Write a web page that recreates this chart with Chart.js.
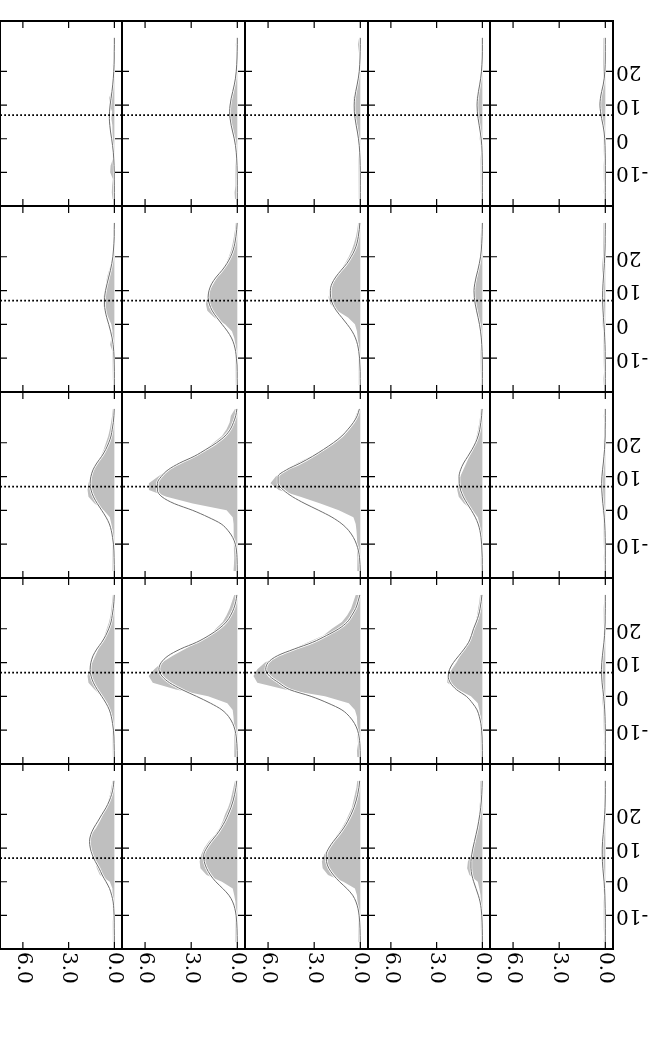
<!DOCTYPE html>
<html>
<head>
<meta charset="utf-8">
<script src="https://cdn.jsdelivr.net/npm/chart.js"></script>
<style>
  html, body { margin: 0; padding: 0; background: #fff; }
  /* the figure is laid out upright and then turned half a turn, as in the picture */
  #fig { position: relative; width: 667px; height: 1060px; overflow: hidden; transform: rotate(180deg); }
  #fig canvas { position: absolute; }
</style>
</head>
<body>
<div id="fig"></div>
<script>
// sample positions along the profile axis
const domain = [-18,-16,-14,-12,-10,-8,-6,-4,-2,0,2,4,6,8,10,12,14,16,18,20,22,24,26,28,30];
const valueTicks = [0, 3, 6];
const domainTicks = [-10, 0, 10, 20];
const refLine = 7;

// histograms, one list per panel, rows/columns as they appear on the page
const histRow1 = [
  [0.12,0.17,0.15,0.1,0.28,0.25,0.1,0.1,0.15,0.15,0.12,0.15,0.2,0.15,0.3,0.35,0.2,0.12,0.08,0.08,0.1,0.06,0.05,0.07,0.05],
  [0.15,0.18,0.12,0.15,0.1,0.12,0.08,0.1,0.12,0.15,0.25,0.35,0.5,0.52,0.45,0.35,0.25,0.15,0.1,0.08,0.06,0.05,0.08,0.1,0.05],
  [0.1,0.12,0.1,0.15,0.1,0.12,0.1,0.08,0.1,0.12,0.15,0.2,0.3,0.4,0.48,0.45,0.35,0.2,0.12,0.1,0.08,0.05,0.1,0.15,0.08],
  [0.08,0.1,0.12,0.1,0.15,0.12,0.1,0.08,0.1,0.18,0.15,0.2,0.25,0.35,0.4,0.38,0.3,0.2,0.12,0.1,0.06,0.05,0.05,0.06,0.04],
  [0.05,0.1,0.08,0.1,0.12,0.1,0.08,0.1,0.12,0.1,0.08,0.12,0.2,0.3,0.35,0.3,0.25,0.15,0.1,0.12,0.15,0.1,0.12,0.15,0.1]
];
const histRow2 = [
  [0.08,0.1,0.12,0.1,0.12,0.15,0.28,0.2,0.12,0.2,0.4,0.62,0.75,0.72,0.62,0.55,0.48,0.35,0.2,0.12,0.1,0.08,0.06,0.05,0.05],
  [0.1,0.12,0.1,0.1,0.12,0.14,0.15,0.2,0.35,0.8,1.5,1.95,2.05,1.95,1.8,1.55,1.3,1.0,0.75,0.55,0.4,0.3,0.22,0.15,0.1],
  [0.1,0.1,0.12,0.1,0.1,0.12,0.14,0.17,0.22,0.35,0.8,1.5,1.95,2.07,1.95,1.8,1.55,1.3,1.0,0.75,0.55,0.4,0.28,0.2,0.14],
  [0.1,0.08,0.1,0.15,0.12,0.1,0.08,0.1,0.12,0.15,0.22,0.35,0.5,0.6,0.58,0.45,0.35,0.25,0.2,0.15,0.12,0.1,0.1,0.08,0.05],
  [0.1,0.12,0.08,0.1,0.15,0.12,0.1,0.12,0.15,0.18,0.2,0.22,0.24,0.22,0.2,0.18,0.15,0.22,0.2,0.15,0.12,0.1,0.12,0.15,0.1]
];
const histRow3 = [
  [0.12,0.1,0.12,0.1,0.12,0.13,0.15,0.2,0.3,0.7,1.3,1.7,1.76,1.7,1.55,1.35,1.1,0.9,0.7,0.55,0.4,0.3,0.22,0.15,0.1],
  [0.25,0.22,0.2,0.22,0.25,0.22,0.25,0.25,0.3,0.7,2.9,4.6,5.75,5.75,5.15,4.5,3.7,2.85,2.1,1.55,1.0,0.7,0.5,0.42,0.15],
  [0.2,0.18,0.2,0.22,0.2,0.22,0.25,0.3,0.45,1.4,2.6,3.9,5.3,5.85,5.5,4.8,4.1,3.2,2.4,1.7,1.1,0.7,0.45,0.3,0.12],
  [0.08,0.1,0.1,0.08,0.1,0.12,0.14,0.18,0.3,0.65,1.2,1.55,1.65,1.6,1.45,1.25,1.05,0.85,0.65,0.5,0.38,0.28,0.2,0.14,0.1],
  [0.05,0.08,0.1,0.08,0.1,0.12,0.1,0.12,0.15,0.18,0.22,0.25,0.28,0.26,0.2,0.15,0.12,0.1,0.08,0.1,0.08,0.06,0.08,0.1,0.05]
];
const histRow4 = [
  [0.1,0.12,0.1,0.12,0.14,0.16,0.22,0.3,0.45,0.85,1.3,1.7,1.76,1.65,1.45,1.25,1.05,0.85,0.65,0.5,0.35,0.25,0.2,0.15,0.1],
  [0.2,0.18,0.2,0.18,0.2,0.22,0.25,0.3,0.65,1.9,4.0,5.5,5.77,5.4,4.9,4.2,3.4,2.6,1.8,1.4,0.95,0.7,0.5,0.35,0.2],
  [0.2,0.22,0.15,0.18,0.15,0.2,0.22,0.35,0.75,2.3,4.9,6.7,6.95,6.7,6.2,5.3,4.4,3.4,2.4,1.85,1.2,0.85,0.6,0.45,0.3],
  [0.1,0.12,0.1,0.1,0.12,0.13,0.15,0.2,0.3,0.75,1.6,2.3,2.3,2.0,1.7,1.45,1.2,0.95,0.75,0.6,0.45,0.35,0.28,0.2,0.15],
  [0.08,0.06,0.1,0.08,0.1,0.12,0.12,0.15,0.18,0.2,0.22,0.25,0.28,0.3,0.25,0.2,0.15,0.12,0.1,0.08,0.1,0.12,0.1,0.08,0.05]
];
const histRow5 = [
  [0.1,0.12,0.1,0.1,0.08,0.1,0.12,0.12,0.15,0.3,0.95,1.15,1.26,1.4,1.55,1.6,1.55,1.2,0.95,0.75,0.55,0.4,0.28,0.2,0.12],
  [0.12,0.1,0.12,0.1,0.12,0.14,0.15,0.2,0.3,1.0,2.0,2.4,2.45,2.35,2.15,1.85,1.45,1.15,0.95,0.8,0.6,0.45,0.35,0.25,0.15],
  [0.12,0.1,0.1,0.12,0.12,0.15,0.18,0.22,0.35,1.1,2.1,2.45,2.5,2.35,2.1,1.8,1.5,1.2,0.95,0.75,0.55,0.45,0.35,0.25,0.2],
  [0.1,0.08,0.1,0.12,0.1,0.1,0.12,0.15,0.2,0.3,0.85,1.0,0.95,0.75,0.62,0.5,0.42,0.3,0.25,0.2,0.2,0.15,0.15,0.12,0.1],
  [0.1,0.08,0.1,0.12,0.1,0.12,0.1,0.08,0.12,0.15,0.12,0.15,0.18,0.2,0.22,0.2,0.18,0.12,0.1,0.08,0.05,0.04,0.03,0.02,0.02]
];

// fitted curves, same layout
const fitRow1 = [
  [0,0,0,0.01,0.01,0.02,0.04,0.07,0.12,0.18,0.25,0.3,0.33,0.32,0.28,0.22,0.16,0.11,0.07,0.04,0.02,0.01,0.01,0,0],
  [0,0,0,0,0.01,0.02,0.04,0.07,0.12,0.2,0.3,0.4,0.47,0.5,0.47,0.4,0.3,0.2,0.12,0.07,0.04,0.02,0.01,0,0],
  [0,0,0,0,0,0.01,0.02,0.04,0.07,0.12,0.19,0.27,0.34,0.39,0.4,0.37,0.3,0.21,0.13,0.07,0.04,0.02,0.01,0,0],
  [0,0,0,0,0,0,0.01,0.02,0.04,0.08,0.14,0.21,0.28,0.33,0.35,0.32,0.26,0.18,0.11,0.06,0.03,0.01,0,0,0],
  [0,0,0,0,0,0,0,0.01,0.02,0.04,0.08,0.15,0.24,0.31,0.35,0.32,0.24,0.14,0.07,0.03,0.01,0,0,0,0]
];
const fitRow2 = [
  [0,0,0,0.01,0.02,0.04,0.08,0.15,0.25,0.37,0.5,0.6,0.65,0.64,0.58,0.48,0.37,0.26,0.17,0.1,0.06,0.03,0.01,0.01,0],
  [0,0.01,0.01,0.02,0.06,0.11,0.21,0.38,0.65,0.99,1.33,1.63,1.82,1.9,1.84,1.67,1.37,0.99,0.68,0.44,0.27,0.16,0.09,0.04,0.01],
  [0,0.01,0.01,0.03,0.05,0.1,0.18,0.32,0.54,0.85,1.2,1.55,1.8,1.93,1.95,1.85,1.6,1.25,0.88,0.6,0.37,0.22,0.13,0.07,0.03],
  [0,0,0,0,0.01,0.02,0.04,0.07,0.12,0.19,0.28,0.38,0.47,0.53,0.55,0.5,0.41,0.3,0.2,0.12,0.07,0.04,0.02,0.01,0],
  [0,0,0,0,0.01,0.01,0.02,0.04,0.06,0.09,0.12,0.15,0.17,0.18,0.17,0.15,0.12,0.09,0.06,0.04,0.02,0.01,0.01,0,0]
];
const fitRow3 = [
  [0,0.01,0.02,0.03,0.06,0.12,0.2,0.33,0.55,0.83,1.12,1.37,1.53,1.59,1.54,1.4,1.15,0.83,0.57,0.37,0.22,0.14,0.07,0.03,0.01],
  [0,0.01,0.02,0.05,0.13,0.3,0.6,1.05,1.9,2.9,4.1,4.9,5.2,5.2,4.95,4.5,3.75,2.8,2.05,1.35,0.8,0.45,0.25,0.1,0.03],
  [0,0.02,0.05,0.12,0.25,0.45,0.75,1.2,1.85,2.7,3.6,4.4,5.0,5.35,5.35,4.8,3.9,3.1,2.4,1.75,1.2,0.8,0.45,0.2,0.06],
  [0,0.01,0.01,0.03,0.05,0.09,0.16,0.28,0.47,0.72,1.0,1.25,1.43,1.52,1.53,1.43,1.23,0.95,0.68,0.45,0.28,0.17,0.1,0.05,0.02],
  [0,0,0,0,0,0.01,0.02,0.04,0.07,0.11,0.16,0.2,0.23,0.24,0.22,0.18,0.13,0.09,0.05,0.03,0.01,0.01,0,0,0]
];
const fitRow4 = [
  [0,0.01,0.02,0.03,0.06,0.12,0.2,0.33,0.55,0.83,1.12,1.37,1.53,1.59,1.54,1.4,1.15,0.83,0.57,0.37,0.22,0.14,0.07,0.03,0.01],
  [0,0.01,0.03,0.07,0.15,0.3,0.56,1.0,1.75,2.65,3.6,4.4,4.9,5.1,4.95,4.5,3.7,2.65,1.85,1.2,0.72,0.43,0.23,0.1,0.03],
  [0,0.01,0.03,0.08,0.18,0.38,0.7,1.2,2.1,3.2,4.6,5.3,5.9,6.15,6.0,5.4,4.3,3.1,2.2,1.4,0.85,0.55,0.3,0.15,0.03],
  [0,0,0.01,0.02,0.05,0.1,0.2,0.35,0.65,1.05,1.7,2.1,2.24,2.15,1.9,1.55,1.2,0.9,0.72,0.58,0.4,0.25,0.15,0.08,0.03],
  [0,0,0,0,0,0.01,0.02,0.04,0.07,0.11,0.16,0.21,0.24,0.25,0.23,0.19,0.14,0.09,0.05,0.03,0.01,0.01,0,0,0]
];
const fitRow5 = [
  [0,0,0.01,0.01,0.02,0.04,0.08,0.18,0.32,0.55,0.8,1.0,1.25,1.45,1.58,1.63,1.55,1.35,1.08,0.82,0.55,0.34,0.18,0.08,0.03],
  [0,0.01,0.02,0.04,0.08,0.16,0.3,0.55,0.95,1.4,1.75,2.0,2.15,2.18,2.0,1.7,1.35,1.05,0.8,0.6,0.42,0.28,0.17,0.09,0.04],
  [0,0.01,0.02,0.04,0.08,0.15,0.28,0.5,0.88,1.35,1.75,2.05,2.2,2.22,2.05,1.75,1.4,1.08,0.82,0.6,0.42,0.28,0.17,0.09,0.04],
  [0,0,0.01,0.02,0.04,0.08,0.15,0.27,0.42,0.57,0.69,0.75,0.75,0.7,0.62,0.52,0.42,0.32,0.24,0.17,0.11,0.07,0.04,0.02,0.01],
  [0,0,0,0,0,0.01,0.02,0.03,0.05,0.08,0.12,0.16,0.19,0.2,0.2,0.18,0.14,0.1,0.07,0.04,0.02,0.01,0,0,0]
];

const histRows = [histRow1, histRow2, histRow3, histRow4, histRow5];
const fitRows = [fitRow1, fitRow2, fitRow3, fitRow4, fitRow5];

// panel edges in the upright layout (before the half turn)
const colEdges = [54, 177, 299, 422, 545, 667];
const rowEdges = [111, 296, 482, 668, 854, 1039];
const PAD = 45, LEFT_AXIS = 40, TOP_AXIS = 60;

Chart.defaults.font.family = "'DejaVu Serif', serif";
Chart.defaults.color = '#000';

// box round each panel plus matplotlib-style inward ticks on all four sides
const frame = {
  id: 'frame',
  afterDraw(chart) {
    const { ctx, chartArea: a, scales: { x, y } } = chart;
    ctx.save();
    ctx.strokeStyle = '#000';
    ctx.lineWidth = 1.2;
    ctx.beginPath();
    x.ticks.forEach(t => {
      const px = x.getPixelForValue(t.value);
      ctx.moveTo(px, a.top); ctx.lineTo(px, a.top + 7);
      ctx.moveTo(px, a.bottom); ctx.lineTo(px, a.bottom - 7);
    });
    y.ticks.forEach(t => {
      const py = y.getPixelForValue(t.value);
      ctx.moveTo(a.left, py); ctx.lineTo(a.left + 7, py);
      ctx.moveTo(a.right, py); ctx.lineTo(a.right - 7, py);
    });
    ctx.stroke();
    ctx.lineWidth = 2;
    ctx.strokeRect(a.left, a.top, a.right - a.left, a.bottom - a.top);
    ctx.restore();
  }
};

const fig = document.getElementById('fig');

for (let i = 0; i < 5; i++) {
  for (let j = 0; j < 5; j++) {
    const hist = histRows[4 - i][4 - j];
    const fit = fitRows[4 - i][4 - j];
    const showX = i === 0;
    const showY = j === 0;

    const canvas = document.createElement('canvas');
    canvas.width = colEdges[j + 1] - colEdges[j] + 2 * PAD + (showY ? LEFT_AXIS : 0);
    canvas.height = rowEdges[i + 1] - rowEdges[i] + 2 * PAD + (showX ? TOP_AXIS : 0);
    canvas.style.left = (colEdges[j] - PAD - (showY ? LEFT_AXIS : 0)) + 'px';
    canvas.style.top = (rowEdges[i] - PAD - (showX ? TOP_AXIS : 0)) + 'px';
    fig.appendChild(canvas);

    const fitPoints = domain.map((d, k) => ({ x: fit[k], y: d }));

    new Chart(canvas, {
      type: 'line',
      data: {
        datasets: [
          {
            data: domain.map((d, k) => ({ x: hist[k], y: d })),
            fill: 'origin',
            backgroundColor: '#bfbfbf',
            borderColor: 'rgba(0,0,0,0)',
            borderWidth: 0,
            pointRadius: 0,
            tension: 0,
            order: 4
          },
          {
            data: fitPoints,
            borderColor: '#fff',
            borderWidth: 2.5,
            pointRadius: 0,
            cubicInterpolationMode: 'monotone',
            fill: false,
            order: 3
          },
          {
            data: fitPoints,
            borderColor: '#6e6e6e',
            borderWidth: 1,
            pointRadius: 0,
            cubicInterpolationMode: 'monotone',
            fill: false,
            order: 2
          },
          {
            data: [{ x: -0.5, y: refLine }, { x: 7.5, y: refLine }],
            borderColor: '#000',
            borderWidth: 1.8,
            borderDash: [1.8, 2.2],
            pointRadius: 0,
            fill: false,
            order: 1
          }
        ]
      },
      options: {
        indexAxis: 'y',
        responsive: false,
        animation: false,
        events: [],
        layout: { padding: PAD },
        plugins: { legend: { display: false }, tooltip: { enabled: false } },
        scales: {
          x: {
            type: 'linear',
            position: 'top',
            min: -0.5,
            max: 7.5,
            grid: { display: false, drawTicks: false },
            border: { display: false },
            afterBuildTicks: s => { s.ticks = valueTicks.map(v => ({ value: v })); },
            afterFit: s => { s.height = showX ? TOP_AXIS : 0; },
            ticks: {
              display: showX,
              autoSkip: false,
              minRotation: 90,
              maxRotation: 90,
              padding: 3,
              labelOffset: 24,
              font: { size: 20 },
              callback: v => v.toFixed(1)
            }
          },
          y: {
            type: 'linear',
            position: 'left',
            reverse: true,
            min: -20,
            max: 35,
            grid: { display: false, drawTicks: false },
            border: { display: false },
            afterBuildTicks: s => { s.ticks = domainTicks.map(v => ({ value: v })); },
            afterFit: s => { s.width = showY ? LEFT_AXIS : 0; },
            ticks: {
              display: showY,
              autoSkip: false,
              padding: 3,
              font: { size: 20 },
              callback: v => String(v)
            }
          }
        }
      },
      plugins: [frame]
    });
  }
}
</script>
</body>
</html>
